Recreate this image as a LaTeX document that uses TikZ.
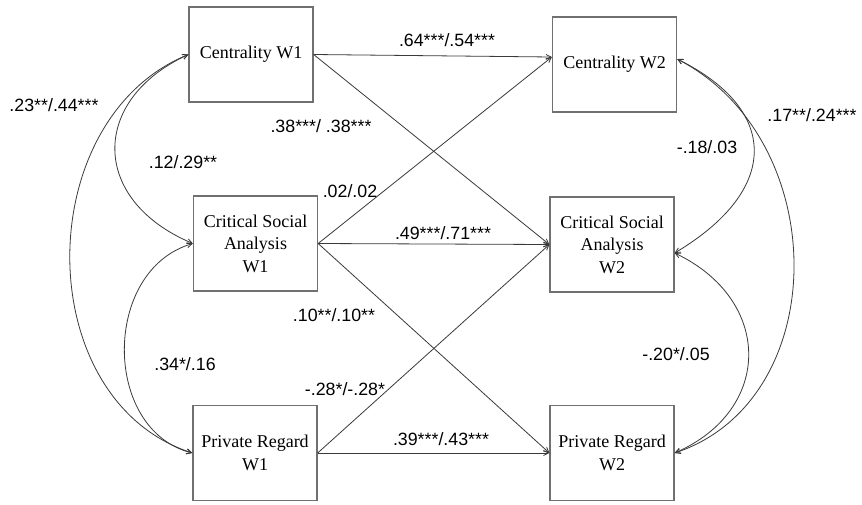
\documentclass[tikz,border=0pt]{standalone}
\usepackage{fontspec}
\setmainfont{Liberation Serif}
\newfontfamily\labfont{Liberation Sans}
\usetikzlibrary{arrows.meta}
\definecolor{linec}{HTML}{3A3A3A}
\definecolor{boxc}{HTML}{707070}
\begin{document}
\begin{tikzpicture}[x=1pt,y=-1pt,
  varbox/.style={draw=boxc,line width=1.3pt,minimum width=124pt,minimum height=95pt,
    align=center,inner sep=0pt,font=\fontsize{18}{22.5}\selectfont},
  path/.style={draw=linec,line width=0.8pt,-{Straight Barb[length=5pt,width=5pt]}},
  cov/.style={draw=linec,line width=0.8pt,{Straight Barb[length=5pt,width=5pt]}-{Straight Barb[length=5pt,width=5pt]}},
  lab/.style={font=\labfont\fontsize{17.8}{20}\selectfont,inner sep=0pt,anchor=center}]
\useasboundingbox (0,0) rectangle (862,504);
\fill[white] (0,0) rectangle (862,504);
% nodes
\node[varbox] (c1) at (251,54.5) {Centrality W1};
\node[varbox] (csa1) at (255.5,243.5) {Critical Social\\Analysis\\W1};
\node[varbox] (pr1) at (255,453) {Private Regard\\W1};
\node[varbox] (c2) at (614.5,64.5) {Centrality W2};
\node[varbox] (csa2) at (612,244.5) {Critical Social\\Analysis\\W2};
\node[varbox] (pr2) at (612,453) {Private Regard\\W2};
% anchor points
\coordinate (c2in) at ([yshift=7.5pt]c2.west);
\coordinate (c2out) at ([yshift=5.5pt]c2.east);
\coordinate (csa2out) at ([yshift=-8.5pt]csa2.east);
% paths
\draw[path] (c1.east) -- (c2in);
\draw[path] (c1.east) -- (csa2.west);
\draw[path] (csa1.east) -- (c2in);
\draw[path] (csa1.east) -- (csa2.west);
\draw[path] (csa1.east) -- (pr2.west);
\draw[path] (pr1.east) -- (csa2.west);
\draw[path] (pr1.east) -- (pr2.west);
% covariances left
\draw[cov] (c1.west) .. controls (90,100) and (90,200) .. (csa1.west);
\draw[cov] (csa1.west) .. controls (102,270) and (102,430) .. (pr1.west);
\draw[cov] (c1.west) .. controls (30,120) and (30,400) .. (pr1.west);
% covariances right
\draw[cov] (c2out) .. controls (780,110) and (780,190) .. (csa2out);
\draw[cov] (csa2out) .. controls (773,300) and (773,410) .. (pr2.east);
\draw[cov] (c2out) .. controls (833,140) and (833,400) .. (pr2.east);
% labels
\node[lab] (l1) at (447,40) {.64***/.54***};
\node[lab] (l2) at (321,126) {.38***/ .38***};
\node[lab] (l3) at (183,162) {.12/.29**};
\node[lab] (l4) at (54,105) {.23**/.44***};
\node[lab] (l5) at (350,191) {.02/.02};
\node[lab] (l6) at (443,233) {.49***/.71***};
\node[lab] (l7) at (812,115) {.17**/.24***};
\node[lab] (l8) at (707,147) {-.18/.03};
\node[lab] (l9) at (334,315) {.10**/.10**};
\node[lab] (l10) at (185,364) {.34*/.16};
\node[lab] (l11) at (345,389) {-.28*/-.28*};
\node[lab] (l12) at (441,439) {.39***/.43***};
\node[lab] (l13) at (676,354) {-.20*/.05};
\end{tikzpicture}
\end{document}
